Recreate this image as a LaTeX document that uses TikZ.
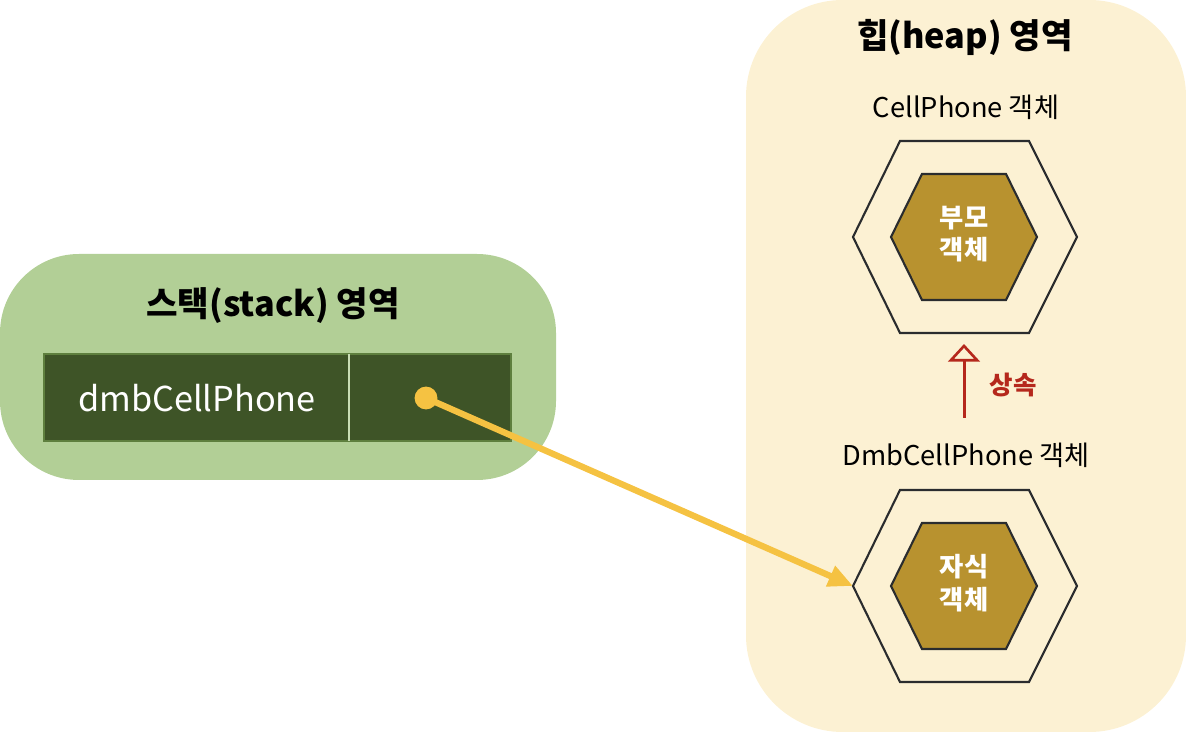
\documentclass[tikz,border=0pt]{standalone}
\usepackage{fontspec}
\setmainfont{Noto Sans CJK KR}
\usetikzlibrary{arrows.meta}

\definecolor{heapbg}{HTML}{FCF1D3}
\definecolor{stackbg}{HTML}{B2CF96}
\definecolor{cellfill}{HTML}{3E5427}
\definecolor{cellline}{HTML}{5E7F3E}
\definecolor{objfill}{HTML}{B8922F}
\definecolor{hexline}{HTML}{2A2C2E}
\definecolor{refcol}{HTML}{F5C242}
\definecolor{inhcol}{HTML}{B5281C}

\tikzset{
  hexline/.style={draw=hexline, line width=1.2pt, line join=miter},
  title/.style={font=\fontsize{19.5}{22}\selectfont\bfseries},
  objlabel/.style={font=\fontsize{15.5}{18}\selectfont},
  objtext/.style={text=white, align=center, font=\fontsize{15}{18.5}\selectfont\bfseries}
}

\begin{document}
\begin{tikzpicture}[x=0.02cm, y=-0.02cm]
  \useasboundingbox (0,0) rectangle (1186,732);

  % heap
  \path [fill=heapbg, rounded corners=55] (746,0) rectangle (1186,732);
  \node [title] (heapt) at (965,37) {힙(heap) 영역};

  % stack
  \path [fill=stackbg, rounded corners=45] (0,254) rectangle (556,480);
  \node [title] (stackt) at (273,306) {스택(stack) 영역};
  \draw [fill=cellfill, draw=cellline, line width=0.8pt] (44,354) rectangle (511,441);
  \draw [draw=stackbg!70!white, line width=0.8pt] (349,354) -- (349,441);
  \node [text=white, font=\fontsize{19.5}{22}\selectfont] (var) at (197,398) {dmbCellPhone};

  % objects
  \foreach \cy/\nm/\txt in {237/parent/{부모\\객체}, 586/child/{자식\\객체}} {
    \draw [hexline] (853,\cy) -- (900,\cy-96) -- (1029,\cy-96) -- (1077,\cy)
                    -- (1029,\cy+96) -- (900,\cy+96) -- cycle;
    \draw [hexline, fill=objfill] (891,\cy) -- (922,\cy-63) -- (1006,\cy-63) -- (1037,\cy)
                    -- (1006,\cy+63) -- (922,\cy+63) -- cycle;
    \coordinate (\nm W) at (853,\cy);
    \coordinate (\nm S) at (964,\cy+96);
    \coordinate (\nm N) at (964,\cy-96);
    \node [objtext] (\nm T) at (964,\cy-3) {\txt};
  }
  \node [objlabel] (parentl) at (966,107) {CellPhone 객체};
  \node [objlabel] (childl) at (966,455) {DmbCellPhone 객체};

  % 상속
  \coordinate (inhA) at (964,418);
  \coordinate (inhB) at (964,344);
  \draw [inhcol, line width=1.7pt, -{Triangle[open, length=10pt, width=18pt, line width=1.5pt]}] (inhA) -- (inhB);
  \node [text=inhcol, font=\fontsize{14.5}{16}\selectfont\bfseries] (inh) at (1013,385) {상속};

  % 참조
  \node [circle, fill=refcol, minimum size=13pt, inner sep=0pt] (dot) at (426,398) {};
  \draw [refcol, line width=3.6pt, -{Triangle[length=14pt, width=12pt]}] (dot.center) -- (childW);
\end{tikzpicture}
\end{document}
